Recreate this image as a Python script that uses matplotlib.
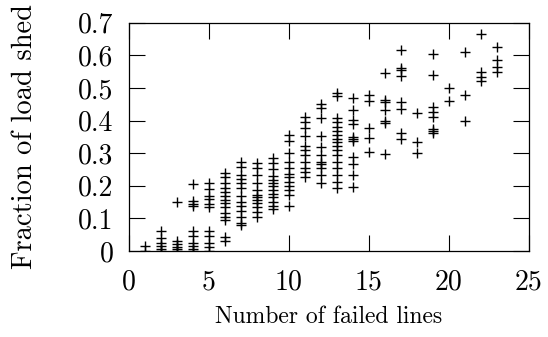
import matplotlib
matplotlib.use("Agg")
import matplotlib.pyplot as plt

plt.rcParams['font.family'] = ['cmr10', 'DejaVu Serif']
plt.rcParams['mathtext.fontset'] = 'cm'
plt.rcParams['axes.formatter.use_mathtext'] = True
plt.rcParams['axes.unicode_minus'] = False

# Data: load shed fraction for each number of failed lines
shed_by_lines = {
    1: [0.016, 0.0],
    2: [0.06, 0.04, 0.024, 0.015, 0.006, 0.0],
    3: [0.151, 0.03, 0.02, 0.012, 0.005, 0.0],
    4: [0.205, 0.153, 0.145, 0.138, 0.06, 0.045, 0.024, 0.015, 0.006, 0.0],
    5: [0.21, 0.19, 0.17, 0.16, 0.144, 0.136, 0.06, 0.045, 0.024, 0.013, 0.0],
    6: [0.24, 0.228, 0.208, 0.192, 0.182, 0.169, 0.156, 0.148, 0.134, 0.117, 0.103, 0.095, 0.042, 0.032],
    7: [0.274, 0.259, 0.233, 0.22, 0.21, 0.192, 0.169, 0.151, 0.138, 0.124, 0.103, 0.087, 0.08],
    8: [0.269, 0.254, 0.233, 0.208, 0.187, 0.172, 0.165, 0.156, 0.146, 0.134, 0.121, 0.105],
    9: [0.284, 0.271, 0.25, 0.23, 0.218, 0.21, 0.2, 0.187, 0.175, 0.165, 0.151, 0.138, 0.128],
    10: [0.356, 0.338, 0.3, 0.274, 0.254, 0.236, 0.228, 0.213, 0.2, 0.187, 0.172, 0.138],
    11: [0.412, 0.397, 0.376, 0.354, 0.323, 0.31, 0.294, 0.272, 0.254, 0.241, 0.228],
    12: [0.45, 0.438, 0.409, 0.354, 0.32, 0.294, 0.272, 0.266, 0.254, 0.233, 0.208],
    13: [0.484, 0.476, 0.409, 0.397, 0.381, 0.368, 0.356, 0.344, 0.333, 0.323, 0.31, 0.294, 0.272, 0.254, 0.233, 0.213, 0.192],
    14: [0.468, 0.433, 0.402, 0.389, 0.351, 0.344, 0.337, 0.289, 0.266, 0.233, 0.197],
    15: [0.479, 0.46, 0.376, 0.346, 0.303],
    16: [0.545, 0.463, 0.456, 0.433, 0.399, 0.392, 0.297],
    17: [0.617, 0.562, 0.555, 0.538, 0.456, 0.436, 0.361, 0.344],
    18: [0.422, 0.333, 0.3],
    19: [0.603, 0.54, 0.443, 0.427, 0.412, 0.374, 0.368, 0.361],
    20: [0.499, 0.46],
    21: [0.611, 0.479, 0.399],
    22: [0.665, 0.55, 0.535, 0.521],
    23: [0.624, 0.586, 0.565, 0.548],
}

failed_lines = [k for k, vals in shed_by_lines.items() for _ in vals]
load_shed = [v for vals in shed_by_lines.values() for v in vals]

x_ticks = [0, 5, 10, 15, 20, 25]
x_tick_labels = ["0", "5", "10", "15", "20", "25"]
y_ticks = [0, 0.1, 0.2, 0.3, 0.4, 0.5, 0.6, 0.7]
y_tick_labels = ["0", "0.1", "0.2", "0.3", "0.4", "0.5", "0.6", "0.7"]

fig = plt.figure(figsize=(5.48, 3.37), dpi=100)
ax = fig.add_axes([0.2349, 0.2552, 0.9648 - 0.2349, 0.9326 - 0.2552])

ax.plot(failed_lines, load_shed, linestyle='none', marker='+', color='black',
        markersize=7, markeredgewidth=1.0)

ax.set_xlim(0, 25)
ax.set_ylim(0, 0.7)
ax.set_xticks(x_ticks)
ax.set_xticklabels(x_tick_labels)
ax.set_yticks(y_ticks)
ax.set_yticklabels(y_tick_labels)
ax.tick_params(direction='in', length=11.5, width=0.8, top=True, right=True,
               labelsize=20, colors='black')
ax.tick_params(axis='x', pad=13)
ax.tick_params(axis='y', pad=11)
for s in ax.spines.values():
    s.set_linewidth(0.9)

ax.set_xlabel("Number of failed lines", fontsize=17)
ax.xaxis.set_label_coords(0.5, -0.24)
ax.set_ylabel("Fraction of load shed", fontsize=20.5)
ax.yaxis.set_label_coords(-0.228, 0.5)

fig.savefig("out.png", dpi=100)
